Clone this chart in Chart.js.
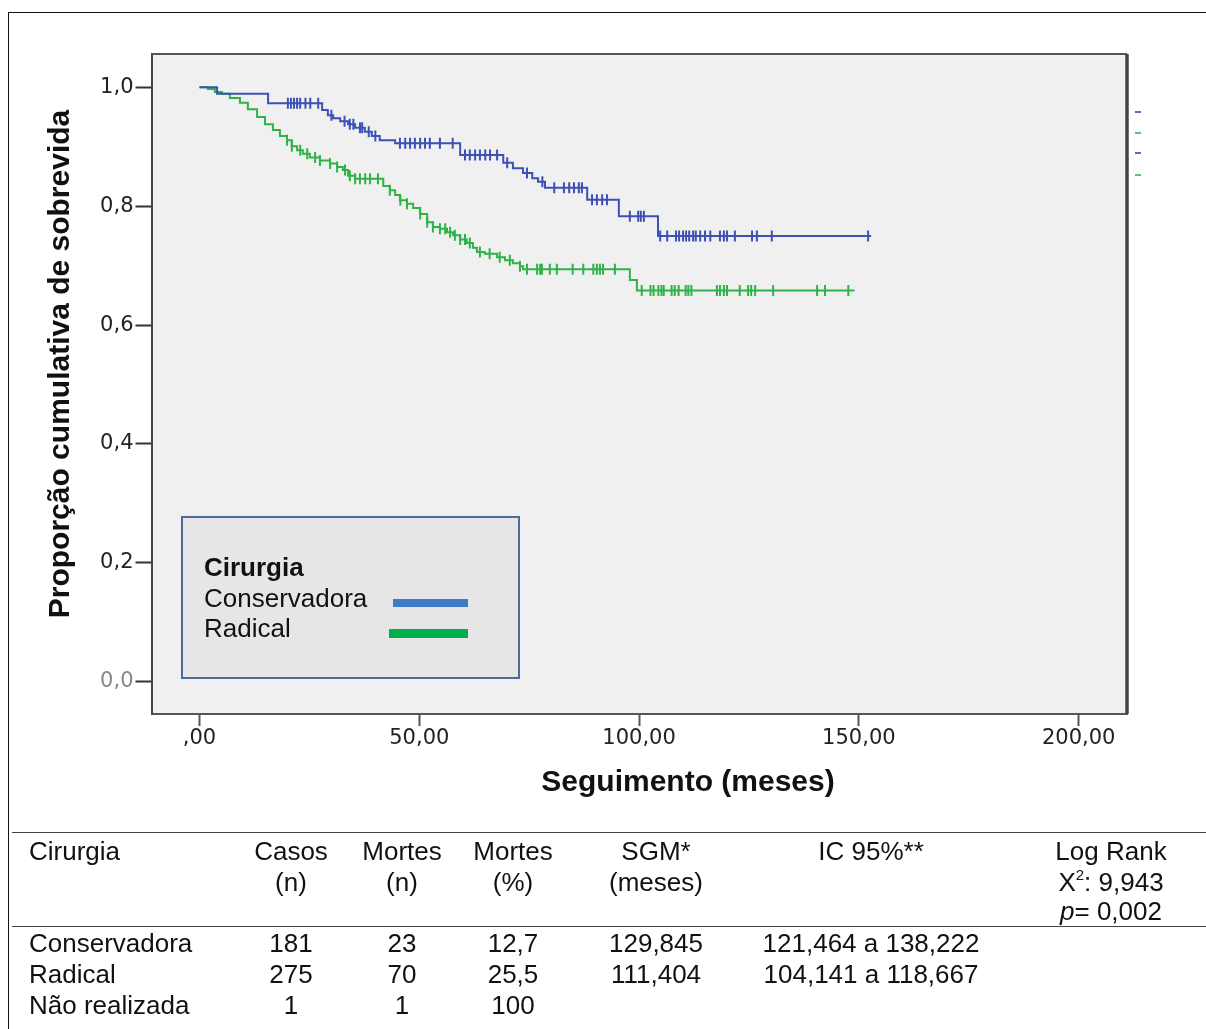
<!DOCTYPE html>
<html>
<head>
<meta charset="utf-8">
<script src="https://cdn.jsdelivr.net/npm/chart.js@4.4.1/dist/chart.umd.min.js"></script>
<style>
  html, body { margin: 0; padding: 0; background: #fff; }
  body { width: 1206px; height: 1029px; position: relative; overflow: hidden;
         font-family: "Liberation Sans", Arial, sans-serif; }
  #frame { position: absolute; left: 8px; top: 12px; width: 1230px; height: 1050px;
           border: 1.5px solid #111; box-sizing: border-box; }
  #wrap { position: absolute; left: 0; top: 0; width: 1206px; height: 830px; }
  #tbl { position: absolute; left: 0; top: 0; width: 1206px; height: 1029px; font-size: 26px; color: #111; }
  .hl { position: absolute; left: 12px; width: 1194px; height: 0; border-top: 1.5px solid #444; }
  .c { position: absolute; white-space: nowrap; transform: translate(-50%, -50%); line-height: 1; }
  .l { position: absolute; white-space: nowrap; transform: translateY(-50%); line-height: 1; }
  sup { font-size: 15px; vertical-align: 0; position: relative; top: -11px; }
</style>
</head>
<body>
<div id="frame"></div>
<div id="wrap"><canvas id="km" width="1206" height="830"></canvas></div>
<div id="tbl"></div>
<script>
// Kaplan-Meier: survival by type of surgery

const xTickValues = [0, 50, 100, 150, 200];
const xTickLabels = [",00", "50,00", "100,00", "150,00", "200,00"];
const yTickValues = [0, 0.2, 0.4, 0.6, 0.8, 1.0];
const yTickLabels = ["0,0", "0,2", "0,4", "0,6", "0,8", "1,0"];

const seriesNames = ["Conservadora", "Radical"];

// Conservadora: step times (months) and survival after each step
const consTimes = [0, 4.0, 15.6, 27.9, 29.2, 30.4, 32.0, 33.8, 35.4, 37.6, 39.2, 41.0, 44.5,
  59.3, 69.1, 71.3, 73.6, 75.7, 77.0, 78.6, 88.2, 95.4, 104.3, 152.8];
const consSurv = [1.0, 0.989, 0.973, 0.962, 0.953, 0.948, 0.943, 0.938, 0.932, 0.925, 0.918, 0.911, 0.906,
  0.886, 0.873, 0.864, 0.856, 0.847, 0.841, 0.831, 0.811, 0.783, 0.750, 0.750];
// censored observations (months)
const consCensored = [20.1, 20.8, 21.5, 22.2, 22.9, 24.1, 25.2, 27.0, 30.0, 33.0, 34.2, 35.0, 36.5, 37.0,
  38.5, 40.0, 45.6, 46.8, 47.9, 49.0, 50.2, 51.3, 52.4, 54.7, 57.6, 60.4, 61.5, 62.7, 63.8, 65.0,
  66.1, 67.7, 70.0, 74.5, 78.0, 80.7, 82.9, 84.1, 85.2, 86.3, 87.0, 89.3, 90.4, 91.6, 92.7, 97.9,
  99.8, 100.4, 101.1, 104.8, 106.4, 108.4, 109.1, 110.0, 110.7, 111.4, 112.3, 112.9, 113.9, 115.0,
  116.2, 118.4, 119.3, 120.0, 121.8, 125.7, 126.8, 130.2, 152.1];

// Radical
const radTimes = [0, 1.9, 3.5, 5.1, 6.9, 9.2, 11.0, 13.1, 14.9, 16.7, 18.3, 19.9, 21.0, 22.2, 23.5,
  25.1, 27.4, 29.7, 31.3, 32.6, 33.8, 35.4, 41.8, 43.3, 44.5, 45.6, 47.2, 48.6, 50.2, 51.8, 53.1,
  54.7, 56.3, 57.7, 59.3, 60.8, 62.2, 63.1, 64.9, 67.7, 69.5, 71.3, 72.9, 73.6, 97.9, 99.5, 149.0];
const radSurv = [1.0, 0.997, 0.992, 0.989, 0.982, 0.974, 0.963, 0.950, 0.938, 0.928, 0.918, 0.911, 0.901,
  0.894, 0.888, 0.882, 0.877, 0.872, 0.866, 0.861, 0.851, 0.846, 0.834, 0.827, 0.819, 0.810, 0.804,
  0.797, 0.787, 0.773, 0.765, 0.762, 0.756, 0.751, 0.744, 0.738, 0.730, 0.723, 0.720, 0.714, 0.709,
  0.704, 0.699, 0.694, 0.676, 0.658, 0.658];
const radCensored = [19.9, 21.0, 22.9, 24.5, 26.3, 27.4, 29.7, 31.3, 33.1, 34.2, 35.4, 36.5, 37.7, 38.8,
  40.6, 43.3, 45.7, 47.2, 50.2, 51.8, 53.1, 54.7, 55.9, 57.0, 58.1, 59.3, 60.4, 61.5, 63.8, 66.0,
  68.3, 70.6, 72.9, 74.5, 76.8, 77.5, 77.9, 79.7, 81.3, 84.9, 87.3, 89.6, 90.4, 91.1, 91.8, 94.5,
  100.6, 102.6, 103.3, 104.4, 105.1, 105.6, 107.4, 108.1, 109.0, 110.6, 111.2, 111.9, 117.7, 118.4,
  119.3, 120.0, 122.9, 124.8, 125.5, 126.4, 130.5, 140.5, 142.3, 147.6];

// table under the plot
const tableHead = [
  ["Cirurgia", "Casos", "Mortes", "Mortes", "SGM*", "IC 95%**", "Log Rank"],
  ["", "(n)", "(n)", "(%)", "(meses)", "", "X<sup>2</sup>: 9,943"],
  ["", "", "", "", "", "", "<i>p</i>= 0,002"],
];
const tableRows = [
  ["Conservadora", "181", "23", "12,7", "129,845", "121,464 a 138,222", ""],
  ["Radical", "275", "70", "25,5", "111,404", "104,141 a 118,667", ""],
  ["Não realizada", "1", "1", "100", "", "", ""],
];

const BLUE = "#3d50b6";
const GREEN = "#2fb348";

function survivalAt(times, surv, t) {
  let s = surv[0];
  for (let i = 0; i < times.length; i++) {
    if (times[i] <= t) s = surv[i];
  }
  return s;
}

function stepPoints(times, surv) {
  return times.map((t, i) => ({ x: t, y: surv[i] }));
}

function censorPoints(cens, times, surv) {
  return cens.map((t) => ({ x: t, y: survivalAt(times, surv, t) }));
}

function buildTable() {
  const el = document.getElementById("tbl");
  const colX = [29, 291, 402, 513, 656, 871, 1111];
  const headY = [851, 882, 911];
  const rowY = [943, 974, 1005];
  let html = '<div class="hl" style="top:832px"></div><div class="hl" style="top:926px"></div>';
  const cell = (txt, i, y) => {
    if (!txt) return "";
    if (i === 0) return `<span class="l" style="left:${colX[0]}px;top:${y}px">${txt}</span>`;
    return `<span class="c" style="left:${colX[i]}px;top:${y}px">${txt}</span>`;
  };
  tableHead.forEach((r, ri) => r.forEach((t, i) => { html += cell(t, i, headY[ri]); }));
  tableRows.forEach((r, ri) => r.forEach((t, i) => { html += cell(t, i, rowY[ri]); }));
  el.innerHTML = html;
}

const framePlugin = {
  id: "frame",
  beforeDraw(chart) {
    const { ctx, chartArea: a } = chart;
    ctx.save();
    ctx.fillStyle = "#f0f0f0";
    ctx.fillRect(a.left, a.top, a.right - a.left, a.bottom - a.top);
    ctx.restore();
  },
  afterDraw(chart) {
    const { ctx, chartArea: a } = chart;
    ctx.save();
    // top and right frame edges
    ctx.strokeStyle = "#555";
    ctx.lineWidth = 2;
    ctx.beginPath();
    ctx.moveTo(a.left, a.top);
    ctx.lineTo(a.right, a.top);
    ctx.stroke();
    ctx.strokeStyle = "#444";
    ctx.lineWidth = 3.5;
    ctx.beginPath();
    ctx.moveTo(a.right, a.top);
    ctx.lineTo(a.right, a.bottom);
    ctx.stroke();

    // small stray legend dashes right of the frame
    [[112, "#5a6fc4"], [133, "#5cc474"], [153, "#5a6fc4"], [175, "#5cc474"]].forEach(([y, c]) => {
      ctx.fillStyle = c;
      ctx.fillRect(a.right + 8, y - 1, 6, 2);
    });

    // legend box
    ctx.fillStyle = "#e6e6e6";
    ctx.fillRect(182, 517, 337, 161);
    ctx.strokeStyle = "#4a6c9b";
    ctx.lineWidth = 2;
    ctx.strokeRect(182, 517, 337, 161);
    ctx.fillStyle = "#111";
    ctx.textAlign = "left";
    ctx.textBaseline = "alphabetic";
    ctx.font = 'bold 26px "Liberation Sans", Arial, sans-serif';
    ctx.fillText("Cirurgia", 204, 576);
    ctx.font = '26px "Liberation Sans", Arial, sans-serif';
    ctx.fillText(seriesNames[0], 204, 607);
    ctx.fillText(seriesNames[1], 204, 637);
    ctx.fillStyle = "#3d7cc9";
    ctx.fillRect(393, 599, 75, 8);
    ctx.fillStyle = "#00b04f";
    ctx.fillRect(389, 629, 79, 9);

    // axis titles
    ctx.fillStyle = "#111";
    ctx.font = 'bold 30px "Liberation Sans", Arial, sans-serif';
    ctx.textAlign = "center";
    ctx.fillText("Seguimento (meses)", 688, 791);
    ctx.translate(69, 364);
    ctx.rotate(-Math.PI / 2);
    ctx.fillText("Proporção cumulativa de sobrevida", 0, 0);
    ctx.restore();
  },
};

const tickFont = { family: '"DejaVu Sans", Verdana, sans-serif', size: 21, lineHeight: 1 };

buildTable();

new Chart(document.getElementById("km"), {
  type: "line",
  plugins: [framePlugin],
  data: {
    datasets: [
      {
        label: seriesNames[0],
        data: stepPoints(consTimes, consSurv),
        borderColor: BLUE,
        borderWidth: 2,
        stepped: true,
        pointRadius: 0,
        fill: false,
      },
      {
        label: seriesNames[1],
        data: stepPoints(radTimes, radSurv),
        borderColor: GREEN,
        borderWidth: 2,
        stepped: true,
        pointRadius: 0,
        fill: false,
      },
      {
        label: seriesNames[0] + " censurado",
        data: censorPoints(consCensored, consTimes, consSurv),
        showLine: false,
        pointStyle: "line",
        rotation: 90,
        pointRadius: 5.5,
        pointBorderWidth: 2,
        pointBorderColor: BLUE,
        pointBackgroundColor: BLUE,
      },
      {
        label: seriesNames[1] + " censurado",
        data: censorPoints(radCensored, radTimes, radSurv),
        showLine: false,
        pointStyle: "line",
        rotation: 90,
        pointRadius: 5.5,
        pointBorderWidth: 2,
        pointBorderColor: GREEN,
        pointBackgroundColor: GREEN,
      },
    ],
  },
  options: {
    responsive: false,
    animation: false,
    events: [],
    layout: { padding: { left: 0, right: 79, top: 54, bottom: 56 } },
    plugins: { legend: { display: false }, tooltip: { enabled: false } },
    scales: {
      x: {
        type: "linear",
        min: -10.92,
        max: 211.0,
        afterBuildTicks: (s) => { s.ticks = xTickValues.map((v) => ({ value: v })); },
        afterFit: (s) => { s.height = 60; },
        ticks: {
          autoSkip: false,
          maxRotation: 0,
          padding: 2,
          color: "#222",
          font: tickFont,
          callback: (v) => xTickLabels[xTickValues.indexOf(v)],
        },
        grid: { drawOnChartArea: false, drawTicks: true, tickLength: 12, tickWidth: 2, tickColor: "#555" },
        border: { display: true, color: "#555", width: 2 },
      },
      y: {
        type: "linear",
        min: -0.0543,
        max: 1.056,
        afterBuildTicks: (s) => { s.ticks = yTickValues.map((v) => ({ value: v })); },
        afterFit: (s) => { s.width = 151.5; },
        ticks: {
          autoSkip: false,
          padding: 2,
          color: (c) => (c.tick && c.tick.value === 0 ? "#888" : "#222"),
          font: tickFont,
          callback: (v) => yTickLabels[yTickValues.indexOf(v)],
        },
        grid: { drawOnChartArea: false, drawTicks: true, tickLength: 16, tickWidth: 2, tickColor: "#333" },
        border: { display: true, color: "#444", width: 2 },
      },
    },
  },
});
</script>
</body>
</html>
